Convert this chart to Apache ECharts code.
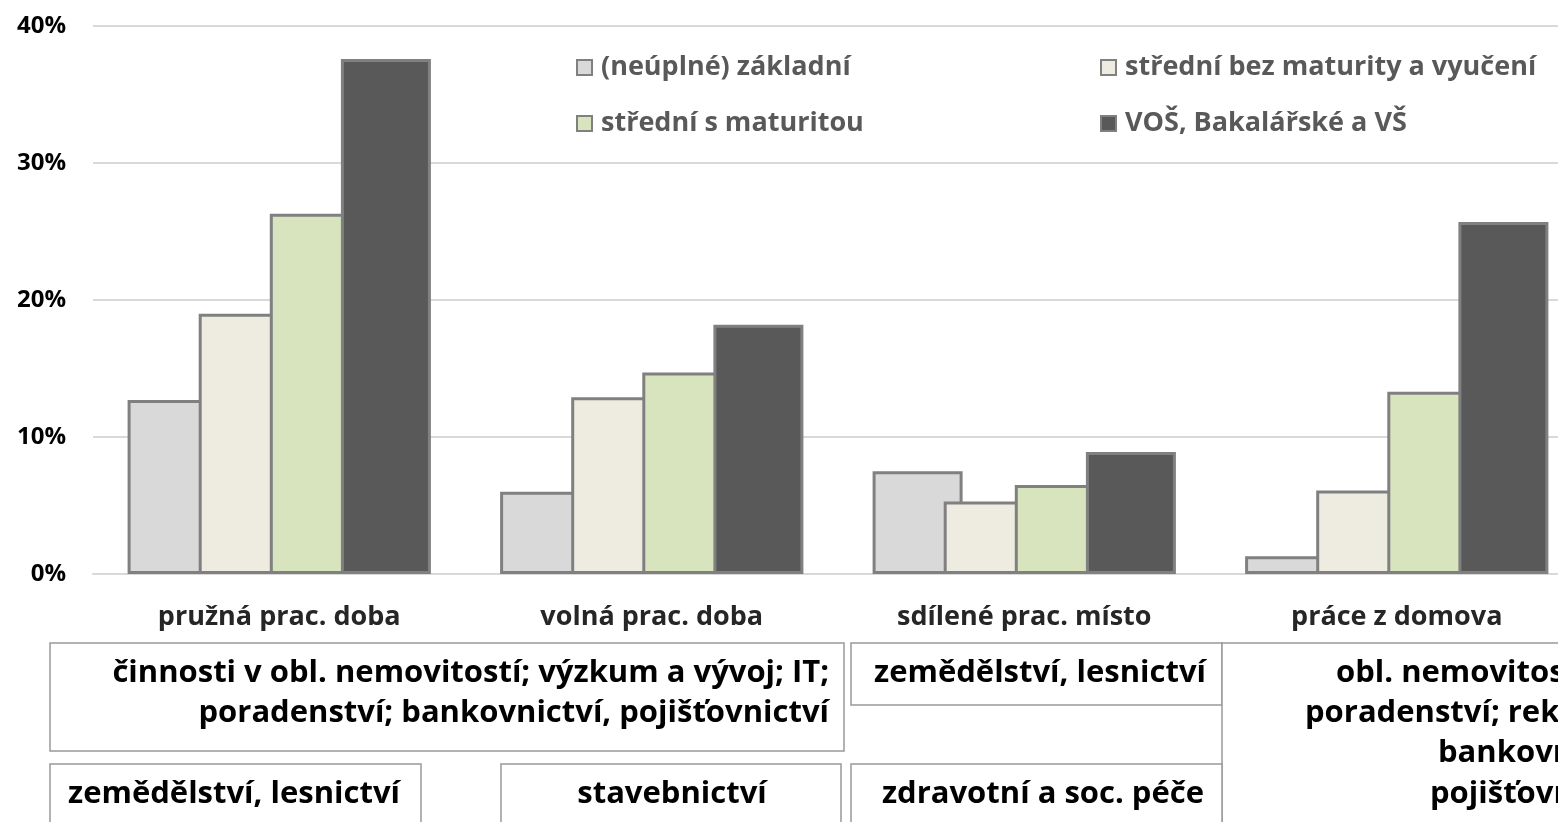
<!DOCTYPE html>
<html>
<head>
<meta charset="utf-8">
<script src="https://cdn.jsdelivr.net/npm/echarts@6/dist/echarts.min.js"></script>
<style>
html,body{margin:0;padding:0;background:#fff;}
#chart{width:1558px;height:822px;}
</style>
</head>
<body>
<div id="chart"></div>
<script>
// ---- data ----
const categories = ['pružná prac. doba', 'volná prac. doba', 'sdílené prac. místo', 'práce z domova'];
const seriesNames = ['(neúplné) základní', 'střední bez maturity a vyučení', 'střední s maturitou', 'VOŠ, Bakalářské a VŠ'];
const zakladni = [12.7, 6.0, 7.5, 1.3];
const stredniBez = [19.0, 12.9, 5.3, 6.1];
const stredniS = [26.3, 14.7, 6.5, 13.3];
const vs = [37.6, 18.2, 8.9, 25.7];
const yTicks = [0, 10, 20, 30, 40];

const boxTexts = {
  a: ['činnosti v obl. nemovitostí; výzkum a vývoj; IT;', 'poradenství; bankovnictví, pojišťovnictví'],
  b: 'zemědělství, lesnictví',
  d: ['obl. nemovitostí; IT;', 'poradenství; reklama a průzkum trhu;', 'bankovnictví,', 'pojišťovnictví'],
  e: 'zdravotní a soc. péče',
  f: 'zemědělství, lesnictví',
  g: 'stavebnictví'
};

// ---- styles ----
const FONT = '"Open Sans", sans-serif';
const FS = 27;
const colors = ['#d9d9d9', '#eeece1', '#d7e4bd', '#595959'];
const BORDER = '#808080';
const BOXSTROKE = '#999999';

const chart = echarts.init(document.getElementById('chart'), null, {renderer: 'canvas'});

const allData = [zakladni, stredniBez, stredniS, vs];
const series = allData.map((d, i) => ({
  name: seriesNames[i],
  type: 'bar',
  data: d,
  barWidth: 90,
  barGap: '-21%',
  itemStyle: {color: colors[i], borderColor: BORDER, borderWidth: 3},
  emphasis: {disabled: true}
}));

const legendPos = [[576, 54], [1100, 54], [576, 110], [1100, 110]];
const legends = seriesNames.map((n, i) => ({
  data: [n],
  left: legendPos[i][0],
  top: legendPos[i][1],
  padding: 0,
  icon: 'rect',
  itemWidth: 15,
  itemHeight: 15,
  itemGap: 0,
  selectedMode: false,
  itemStyle: {borderColor: BORDER, borderWidth: 2},
  textStyle: {fontFamily: FONT, fontWeight: 'bold', fontSize: FS, color: '#595959', padding: [0, 0, 0, 4]}
}));

function rect(x, y, w, h) {
  return {type: 'rect', shape: {x: x, y: y, width: w, height: h}, style: {fill: '#fff', stroke: BOXSTROKE, lineWidth: 1.5}, silent: true};
}
function txt(s, x, y, align, fs) {
  return {type: 'text', silent: true, style: {text: s, x: x, y: y, textAlign: align, textVerticalAlign: 'middle', align: align, verticalAlign: 'middle', fontFamily: FONT, fontWeight: 'bold', fontSize: fs, fill: '#000'}};
}

const graphics = [
  rect(50, 643, 794, 108),
  rect(851, 643, 371, 62),
  rect(1222, 643, 400, 250),
  rect(851, 764, 371, 120),
  rect(50, 764, 371, 120),
  rect(501, 764, 340, 120),
  txt(boxTexts.a[0], 829, 673, 'right', 31),
  txt(boxTexts.a[1], 829, 713, 'right', 31),
  txt(boxTexts.b, 1040, 673, 'center', 31),
  txt(boxTexts.d[0], 1336, 673, 'left', 31),
  txt(boxTexts.d[1], 1305, 713, 'left', 31),
  txt(boxTexts.d[2], 1438, 753, 'left', 31),
  txt(boxTexts.d[3], 1430, 794, 'left', 31),
  txt(boxTexts.e, 1043, 794, 'center', 31),
  txt(boxTexts.f, 234, 794, 'center', 31),
  txt(boxTexts.g, 672, 794, 'center', 31)
];

chart.setOption({
  animation: false,
  backgroundColor: '#fff',
  grid: {left: 93, top: 26, width: 1490, bottom: 248, containLabel: false, outerBoundsMode: 'none'},
  legend: legends,
  xAxis: {
    type: 'category',
    data: categories,
    axisTick: {show: false},
    axisLine: {lineStyle: {color: '#d9d9d9', width: 2}},
    axisLabel: {fontFamily: FONT, fontWeight: 'bold', fontSize: FS, color: '#262626', margin: 30, interval: 0}
  },
  yAxis: {
    type: 'value',
    min: yTicks[0],
    max: yTicks[yTicks.length - 1],
    interval: 10,
    axisLine: {show: false},
    axisTick: {show: false},
    splitLine: {lineStyle: {color: '#d9d9d9', width: 2}},
    axisLabel: {fontFamily: FONT, fontWeight: 'bold', fontSize: 24, color: '#000', margin: 27, formatter: '{value}%'}
  },
  series: series,
  graphic: graphics
});
</script>
</body>
</html>
